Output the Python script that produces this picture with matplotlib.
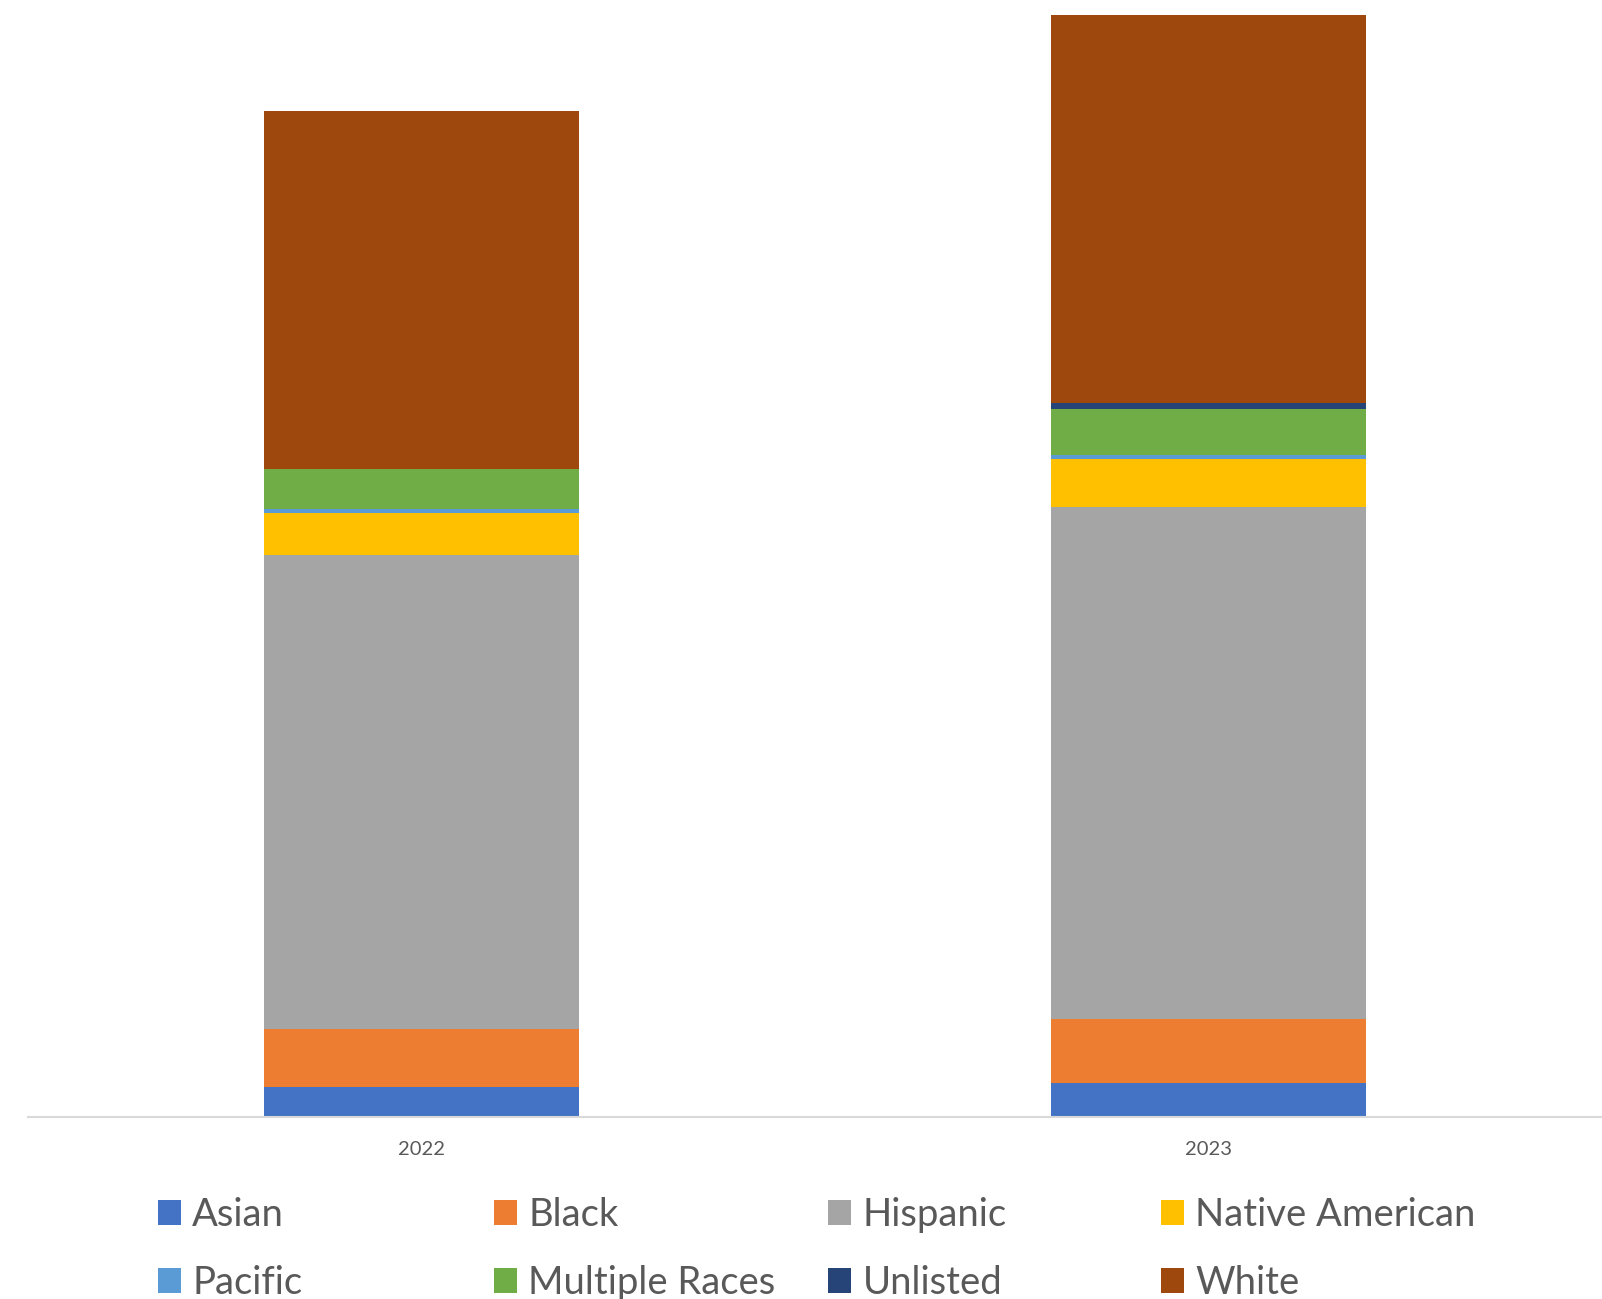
import matplotlib.pyplot as plt
from matplotlib.patches import Patch
import numpy as np

# Dados (contagens estimadas)
years = ['2022', '2023']
groups = ['Asian', 'Black', 'Hispanic', 'Native American',
          'Pacific', 'Multiple Races', 'Unlisted', 'White']
asian = [30, 34]
black = [58, 64]
hispanic = [474, 512]
native_american = [42, 48]
pacific = [4, 4]
multiple_races = [40, 46]
unlisted = [0, 6]
white = [358, 388]

colors = ['#4472C4', '#ED7D31', '#A5A5A5', '#FFC000',
          '#5B9BD5', '#70AD47', '#264478', '#9E480E']

series = [asian, black, hispanic, native_american,
          pacific, multiple_races, unlisted, white]

W, H = 1602, 1299
plt.rcParams['font.family'] = ['Lato', 'DejaVu Sans']

fig = plt.figure(figsize=(W / 100, H / 100), dpi=100)
ax = fig.add_axes([28 / W, 1 - 1117 / H, 1 - 28 / W, (1117 - 5) / H])

x = np.arange(len(years))
bottom = np.zeros(len(years))
for name, vals, col in zip(groups, series, colors):
    ax.bar(x, vals, width=0.4, bottom=bottom, color=col, linewidth=0, label=name)
    bottom += np.array(vals)

ax.set_xlim(-0.5, 1.5)
ax.set_ylim(0, 1112)
ax.set_xticks(x)
ax.set_xticklabels(years, fontsize=14.5, color='#595959')
ax.tick_params(axis='x', length=0, pad=17)
ax.set_yticks([])
for side in ['left', 'right', 'top']:
    ax.spines[side].set_visible(False)
ax.spines['bottom'].set_color('#D9D9D9')
ax.spines['bottom'].set_linewidth(1.5)

# Legenda em grade 4x2 com colunas de largura igual (como no Excel)
col_x = [158, 494, 828, 1161]
row_y = [1215, 1283]
fs = 27.5
for i, (name, col) in enumerate(zip(groups, colors)):
    r, c = divmod(i, 4)
    fig.legend(handles=[Patch(facecolor=col, edgecolor='none')], labels=[name],
               loc='center left',
               bbox_to_anchor=(col_x[c] / W, 1 - row_y[r] / H),
               frameon=False, fontsize=fs, labelcolor='#595959',
               handlelength=0.6, handleheight=0.6, handletextpad=0.3,
               borderpad=0, borderaxespad=0)

fig.savefig('out.png', dpi=100)
plt.close(fig)
